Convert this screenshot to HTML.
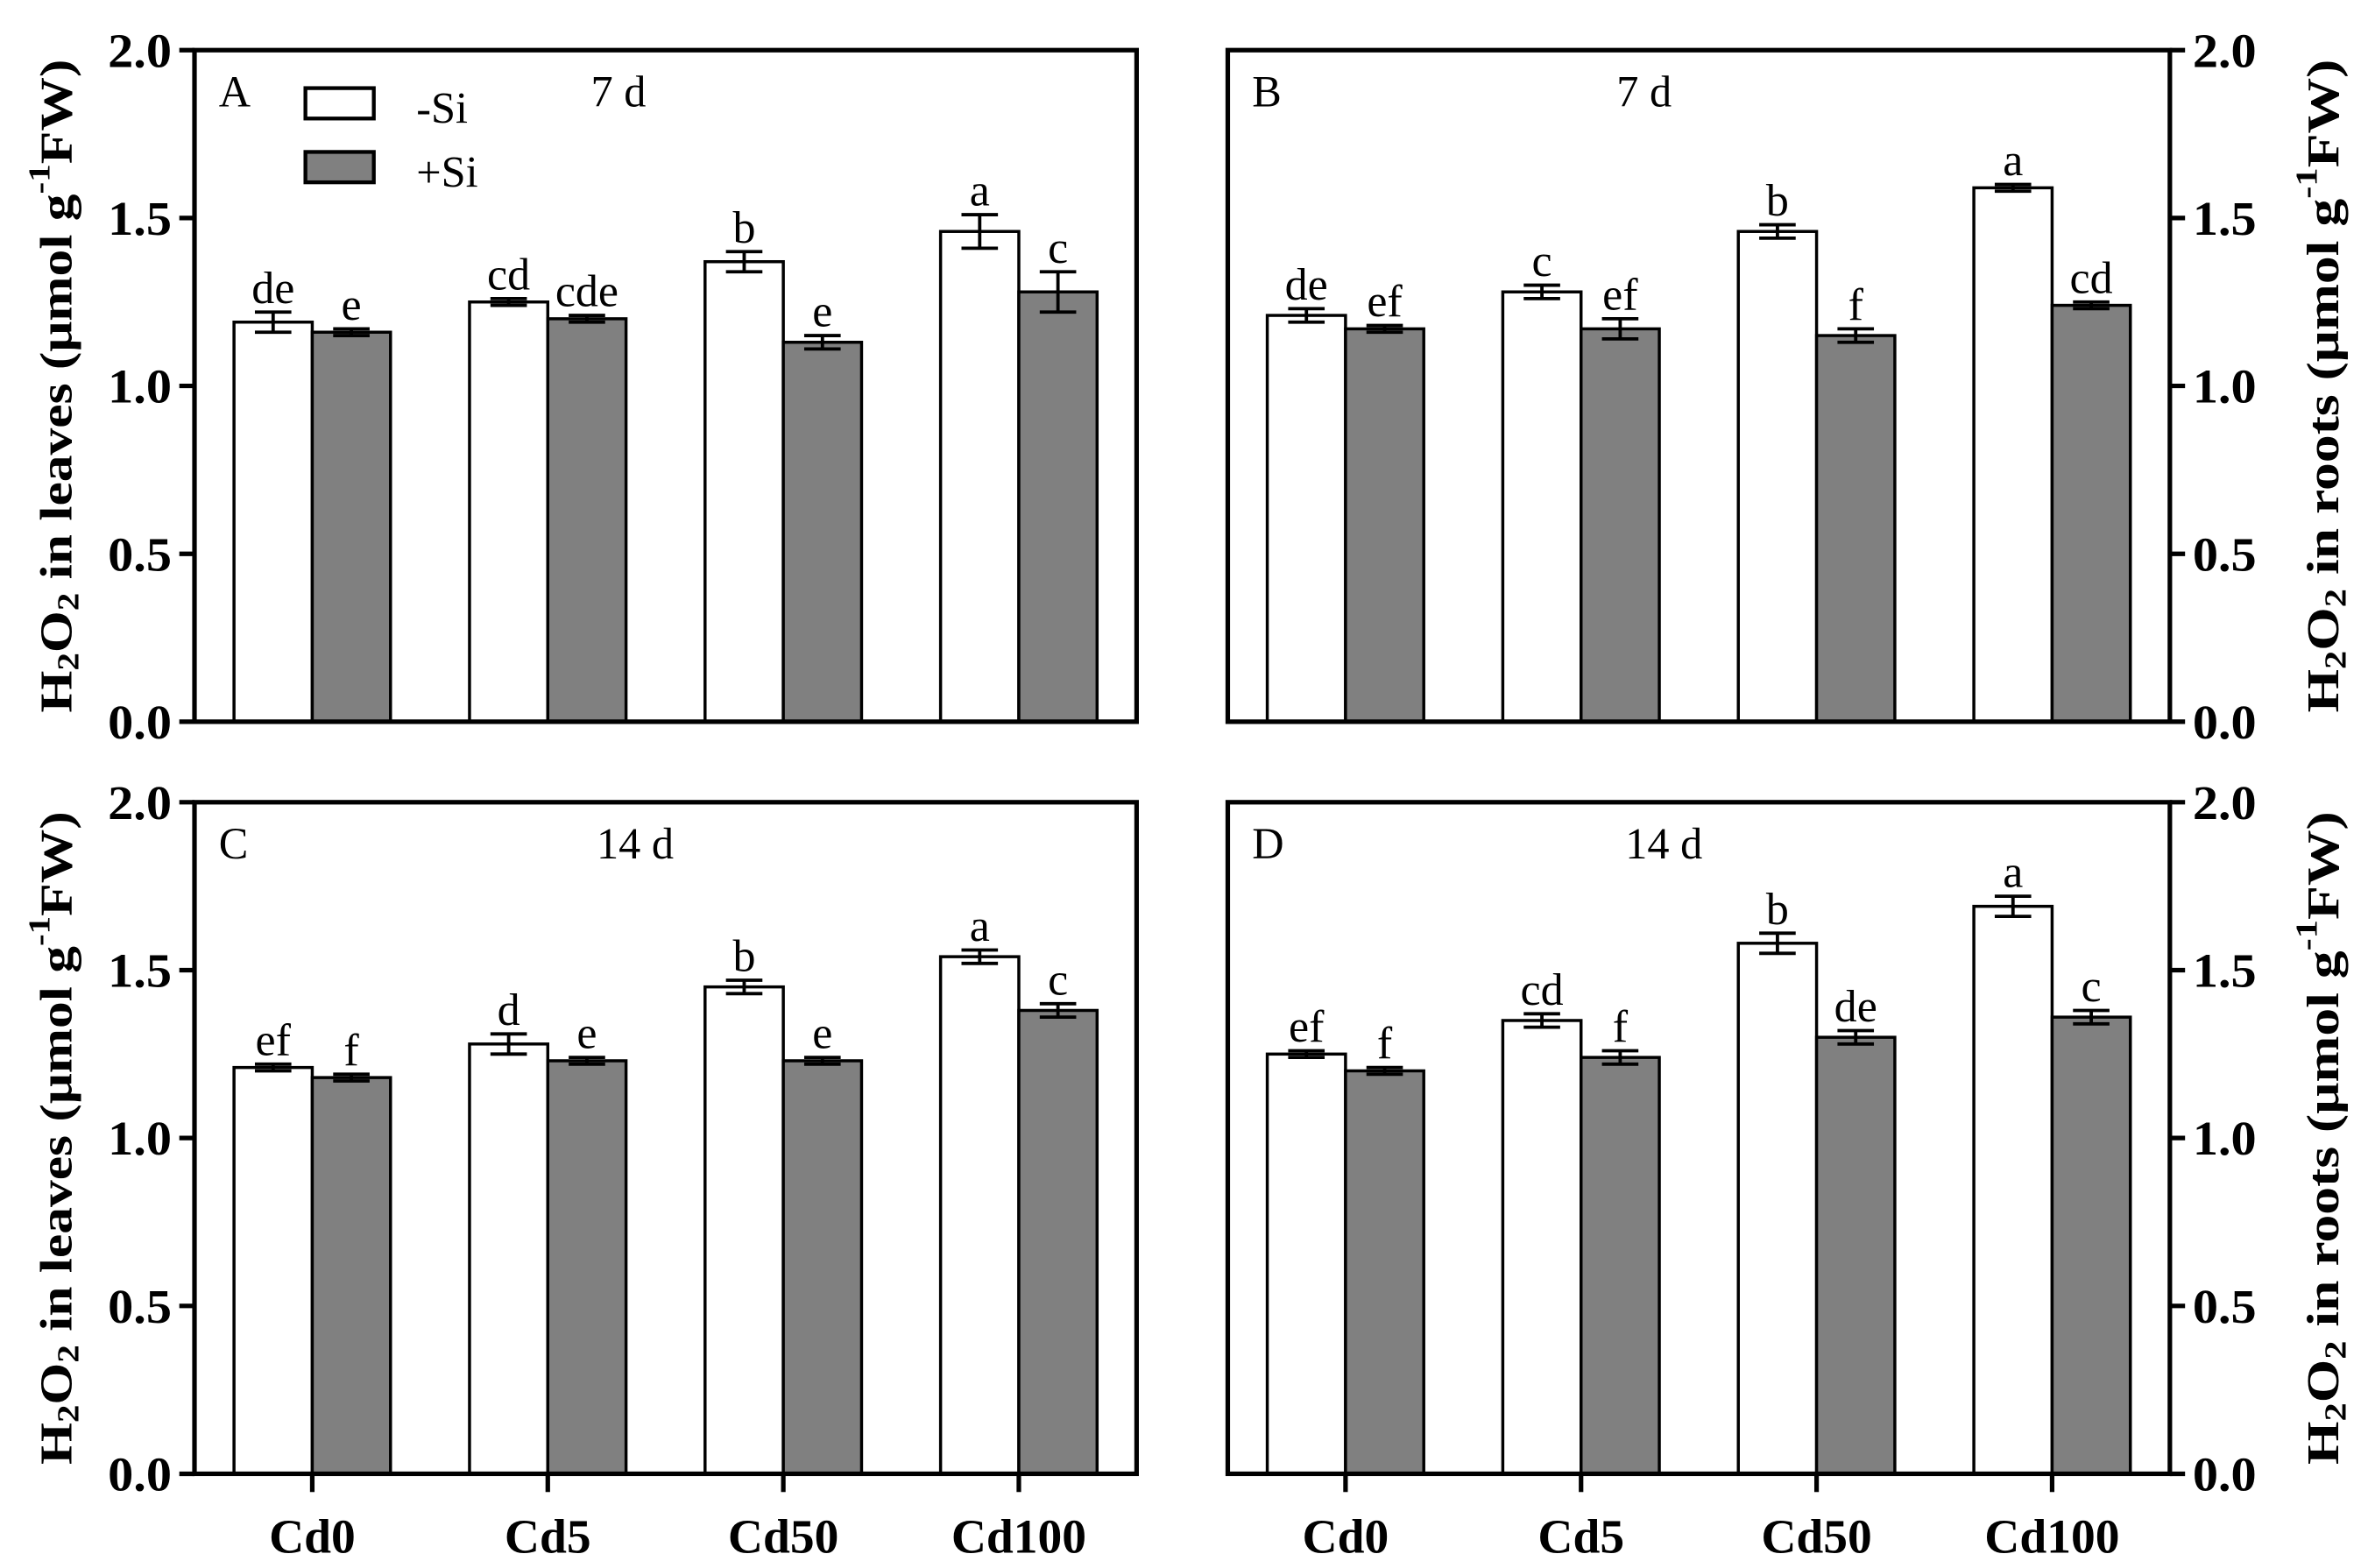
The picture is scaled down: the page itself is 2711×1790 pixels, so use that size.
<!DOCTYPE html>
<html><head><meta charset="utf-8">
<style>html,body{margin:0;padding:0;background:#fff;}svg{display:block;}
text{font-family:"Liberation Serif",serif;}</style></head>
<body>
<svg id="chart" width="2711" height="1790" viewBox="0 0 1563 1032" preserveAspectRatio="none" xmlns="http://www.w3.org/2000/svg"></svg>
<script>
const categories = ["Cd0","Cd5","Cd50","Cd100"];
const yTicks = [0,0.5,1.0,1.5,2.0];
const yTickLabels = ["0.0","0.5","1.0","1.5","2.0"];
const aMinus = [1.19,1.25,1.37,1.46];
const aMinusErr = [0.03,0.01,0.03,0.05];
const aPlus = [1.16,1.20,1.13,1.28];
const aPlusErr = [0.01,0.01,0.02,0.06];
const aLetters = ["de","e","cd","cde","b","e","a","c"];
const bMinus = [1.21,1.28,1.46,1.59];
const bMinusErr = [0.02,0.02,0.02,0.01];
const bPlus = [1.17,1.17,1.15,1.24];
const bPlusErr = [0.01,0.03,0.02,0.01];
const bLetters = ["de","ef","c","ef","b","f","a","cd"];
const cMinus = [1.21,1.28,1.45,1.54];
const cMinusErr = [0.01,0.03,0.02,0.02];
const cPlus = [1.18,1.23,1.23,1.38];
const cPlusErr = [0.01,0.01,0.01,0.02];
const cLetters = ["ef","f","d","e","b","e","a","c"];
const dMinus = [1.25,1.35,1.58,1.69];
const dMinusErr = [0.01,0.02,0.03,0.03];
const dPlus = [1.20,1.24,1.30,1.36];
const dPlusErr = [0.01,0.02,0.02,0.02];
const dLetters = ["ef","f","cd","f","b","de","a","c"];

const NS="http://www.w3.org/2000/svg";
const svg=document.getElementById('chart');
function mk(tag,attrs,parent,txt){const e=document.createElementNS(NS,tag);for(const k in attrs)e.setAttribute(k,attrs[k]);if(txt!==undefined)e.textContent=txt;(parent||svg).appendChild(e);return e;}

function panel(cfg){
  const {id,x0,x1,y0,y1,right,letter,day,minus,minusErr,plus,plusErr,letters,xlabels,title}=cfg;
  const g=mk('g',{});
  
  
  const ys=v=>y1-(v/2.0)*(y1-y0);
  const band=(x1-x0)/4;
  const cx=i=>x0+band*(i+0.5);
  const bw=51.5;
  const series=[[minus,minusErr,'#ffffff'],[plus,plusErr,'#808080']];
  for(let i=0;i<categories.length;i++){
    series.forEach((s,k)=>{
      const v=s[0][i],e=s[1][i];
      const bx=k===0?cx(i)-bw:cx(i);
      const r=mk('rect',{x:bx,y:ys(v),width:bw,height:y1-ys(v),fill:s[2],stroke:'#000','stroke-width':2},g);
      
      
      const mx=bx+bw/2;
      const eb=mk('path',{d:`M${mx},${ys(v+e)}V${ys(v-e)}M${mx-12},${ys(v+e)}H${mx+12}M${mx-12},${ys(v-e)}H${mx+12}`,stroke:'#000','stroke-width':2.2,fill:'none'},g);
      
      
      const t=mk('text',{x:mx,y:ys(v+e)-6,'text-anchor':'middle','font-size':30},g,letters[i*2+k]);
      
      
    });
  }
  const fr=mk('rect',{x:x0,y:y0,width:x1-x0,height:y1-y0,fill:'none',stroke:'#000','stroke-width':3},g);
  
  
  const ax=right?x1:x0;
  yTicks.forEach((v,j)=>{
    const tk=mk('line',{x1:ax,x2:right?ax+10:ax-10,y1:ys(v),y2:ys(v),stroke:'#000','stroke-width':3},g);
    
    
    const tl=mk('text',{x:right?ax+15:ax-15,y:ys(v)+11,'text-anchor':right?'start':'end','font-size':32,'font-weight':'bold',textLength:42,lengthAdjust:'spacingAndGlyphs'},g,yTickLabels[j]);
    
    
  });
  if(xlabels){
    categories.forEach((c,i)=>{
      const tk=mk('line',{x1:cx(i),x2:cx(i),y1:y1,y2:y1+12,stroke:'#000','stroke-width':3},g);
      
      
      const tl=mk('text',{x:cx(i),y:y1+52,'text-anchor':'middle','font-size':32,'font-weight':'bold'},g,c);
      
      
    });
  }
  const pl=mk('text',{x:x0+16,y:y0+37,'font-size':29},g,letter);
  
  
  const dl=mk('text',{x:cfg.dayX,y:y0+37,'text-anchor':'middle','font-size':29},g,day);
  
  
  const tx=right?1532:40, ty=(y0+y1)/2;
  const tt=mk('text',{x:tx,y:ty,transform:`rotate(-90 ${tx} ${ty})`,'text-anchor':'middle','dominant-baseline':'middle','font-size':30,'font-weight':'bold',textLength:430,lengthAdjust:'spacingAndGlyphs'},g);
  
  
  tt.innerHTML=`H<tspan font-size="20" dy="7">2</tspan><tspan dy="-7">O</tspan><tspan font-size="20" dy="7">2</tspan><tspan dy="-7"> in ${title} (μmol g</tspan><tspan font-size="20" dy="-12">-1</tspan><tspan dy="12">FW)</tspan>`;
}
panel({id:'a',x0:128,x1:748,y0:33,y1:475,right:false,letter:'A',day:'7 d',dayX:407,minus:aMinus,minusErr:aMinusErr,plus:aPlus,plusErr:aPlusErr,letters:aLetters,xlabels:false,title:'leaves'});
panel({id:'b',x0:808,x1:1428,y0:33,y1:475,right:true,letter:'B',day:'7 d',dayX:1082,minus:bMinus,minusErr:bMinusErr,plus:bPlus,plusErr:bPlusErr,letters:bLetters,xlabels:false,title:'roots'});
panel({id:'c',x0:128,x1:748,y0:528,y1:970,right:false,letter:'C',day:'14 d',dayX:418,minus:cMinus,minusErr:cMinusErr,plus:cPlus,plusErr:cPlusErr,letters:cLetters,xlabels:true,title:'leaves'});
panel({id:'d',x0:808,x1:1428,y0:528,y1:970,right:true,letter:'D',day:'14 d',dayX:1095,minus:dMinus,minusErr:dMinusErr,plus:dPlus,plusErr:dPlusErr,letters:dLetters,xlabels:true,title:'roots'});

const lg=mk('g',{});


const l1=mk('rect',{x:201,y:58,width:45,height:20,fill:'#fff',stroke:'#000','stroke-width':2.5},lg);


const t1=mk('text',{x:274,y:81,'font-size':29},lg,'-Si');


const l2=mk('rect',{x:201,y:100,width:45,height:20,fill:'#808080',stroke:'#000','stroke-width':2.5},lg);


const t2=mk('text',{x:274,y:123,'font-size':29},lg,'+Si');


</script>
</body></html>
